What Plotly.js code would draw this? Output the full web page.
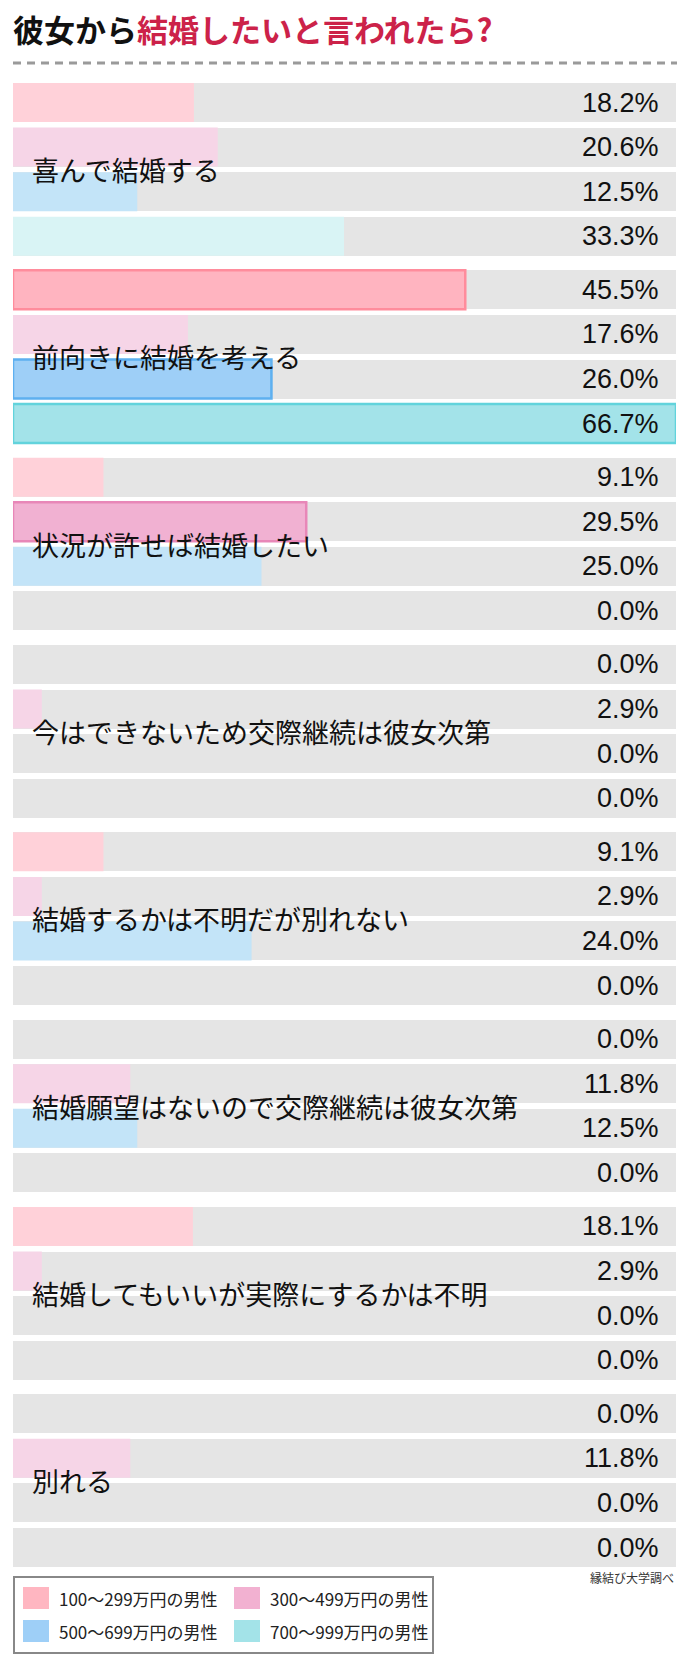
<!DOCTYPE html>
<html>
<head>
<meta charset="utf-8">
<script src="https://cdn.plot.ly/plotly-3.0.1.min.js"></script>
<style>
html,body{margin:0;padding:0;background:#fff;}
#chart{width:690px;height:1666px;}
</style>
</head>
<body>
<div id="chart"></div>
<script>
// ---- data ----
const titleBlack = "彼女から";
const titleRed = "結婚したいと言われたら?";
const categories = [
  "喜んで結婚する",
  "前向きに結婚を考える",
  "状況が許せば結婚したい",
  "今はできないため交際継続は彼女次第",
  "結婚するかは不明だが別れない",
  "結婚願望はないので交際継続は彼女次第",
  "結婚してもいいが実際にするかは不明",
  "別れる"
];
const seriesNames = ["100〜299万円の男性", "300〜499万円の男性", "500〜699万円の男性", "700〜999万円の男性"];
const v100 = [18.2, 45.5, 9.1, 0.0, 9.1, 0.0, 18.1, 0.0];
const v300 = [20.6, 17.6, 29.5, 2.9, 2.9, 11.8, 2.9, 11.8];
const v500 = [12.5, 26.0, 25.0, 0.0, 24.0, 12.5, 0.0, 0.0];
const v700 = [33.3, 66.7, 0.0, 0.0, 0.0, 0.0, 0.0, 0.0];
const sourceText = "縁結び大学調べ";

// ---- styles ----
const faintColors = ["#ffd1d9", "#f6d5e7", "#c3e4f8", "#d9f4f5"];
const strongColors = ["#ffb4c0", "#f1b1d2", "#9ecff7", "#a3e3e9"];
const borderColors = ["#ff8c9c", "#e887b8", "#5eb0f0", "#62d3dc"];
const legendColors = ["#ffb6c1", "#f2b1d1", "#9ecff7", "#a3e3e8"];

const allSeries = [v100, v300, v500, v700];
const W = 690, H = 1666;
const mL = 13, mR = 14, mT = 80, mB = 96;
const plotH = H - mT - mB;
const unit = 44.6;           // px per bar slot
const groupStep = 4.2;       // slots per group
const firstCenter = 102.5;   // px of first bar center
const yTop = -(firstCenter - mT) / unit;
const yBot = (H - mB - firstCenter) / unit;
const barW = 39 / unit;
const maxVal = Math.max(...allSeries.flat());

function pyPaper(px) { return (H - mB - px) / plotH; }
function pxPaperX(px) { return (px - mL) / (W - mL - mR); }

const traces = [];
// background gray tracks
const bgY = [], bgX = [];
categories.forEach((c, g) => {
  for (let s = 0; s < allSeries.length; s++) { bgY.push(g * groupStep + s); bgX.push(maxVal); }
});
traces.push({
  type: 'bar', orientation: 'h', x: bgX, y: bgY, width: barW,
  marker: {color: '#e5e5e5'}, hoverinfo: 'skip', showlegend: false
});

allSeries.forEach((vals, s) => {
  const m = Math.max(...vals);
  const isMax = vals.map(v => v === m && v > 0);
  traces.push({
    type: 'bar', orientation: 'h', name: seriesNames[s],
    x: vals,
    y: vals.map((v, g) => g * groupStep + s),
    width: barW,
    marker: {
      color: isMax.map(h => h ? strongColors[s] : faintColors[s]),
      line: {color: isMax.map(h => h ? borderColors[s] : 'rgba(0,0,0,0)'), width: isMax.map(h => h ? 2.5 : 0)}
    },
    showlegend: false
  });
});

const annotations = [];
// value labels
allSeries.forEach((vals, s) => {
  vals.forEach((v, g) => {
    annotations.push({
      x: maxVal, y: g * groupStep + s, xref: 'x', yref: 'y',
      text: v.toFixed(1) + '%', showarrow: false, xanchor: 'right', yanchor: 'middle',
      xshift: -15, font: {family: 'Liberation Sans, Arial, sans-serif', size: 27, color: '#111'}
    });
  });
});
// category labels
categories.forEach((c, g) => {
  annotations.push({
    x: 0, y: g * groupStep + 1.5, xref: 'x', yref: 'y',
    text: c, showarrow: false, xanchor: 'left', yanchor: 'middle', xshift: 17,
    font: {family: 'Noto Sans CJK JP, sans-serif', size: 27, color: '#111'}
  });
});
// source
annotations.push({
  x: 1, y: pyPaper(1578), xref: 'paper', yref: 'paper', text: sourceText, showarrow: false,
  xanchor: 'right', yanchor: 'middle', font: {family: 'Noto Sans CJK JP, sans-serif', size: 12, color: '#333'}
});

const shapes = [];
// dashed rule under title
shapes.push({
  type: 'line', xref: 'paper', yref: 'paper', x0: 0, x1: pxPaperX(677), y0: pyPaper(63), y1: pyPaper(63),
  line: {color: '#9a9a9a', width: 3, dash: '8px,6px'}
});
// legend box
shapes.push({
  type: 'rect', xref: 'paper', yref: 'paper', x0: pxPaperX(14), x1: pxPaperX(433),
  y0: pyPaper(1577), y1: pyPaper(1653), line: {color: '#888', width: 2}, fillcolor: '#fff'
});
const legPos = [[23, 1598], [234, 1598], [23, 1631], [234, 1631]];
seriesNames.forEach((n, s) => {
  const [lx, ly] = legPos[s];
  shapes.push({
    type: 'rect', xref: 'paper', yref: 'paper',
    x0: pxPaperX(lx), x1: pxPaperX(lx + 26), y0: pyPaper(ly - 11), y1: pyPaper(ly + 11),
    line: {width: 0}, fillcolor: legendColors[s]
  });
  annotations.push({
    x: pxPaperX(lx + 34), y: pyPaper(ly), xref: 'paper', yref: 'paper', text: n, showarrow: false,
    xanchor: 'left', yanchor: 'middle', font: {family: 'Noto Sans CJK JP, sans-serif', size: 17, color: '#222'}
  });
});

const layout = {
  width: W, height: H,
  margin: {l: mL, r: mR, t: mT, b: mB, pad: 0},
  paper_bgcolor: '#fff', plot_bgcolor: '#fff',
  barmode: 'overlay', bargap: 0,
  title: {
    text: titleBlack + "<span style='color:#cc2249'>" + titleRed + "</span>",
    x: 13 / W, xref: 'container', xanchor: 'left',
    y: 1 - 31 / H, yref: 'container', yanchor: 'middle',
    font: {family: 'Noto Sans CJK JP, sans-serif', size: 31, color: '#111', weight: 700}
  },
  xaxis: {range: [0, maxVal], showgrid: false, zeroline: false, showticklabels: false, showline: false, fixedrange: true},
  yaxis: {range: [yBot, yTop], showgrid: false, zeroline: false, showticklabels: false, showline: false, fixedrange: true},
  showlegend: false,
  annotations: annotations,
  shapes: shapes
};

Plotly.newPlot('chart', traces, layout, {displayModeBar: false, staticPlot: true});
</script>
</body>
</html>
